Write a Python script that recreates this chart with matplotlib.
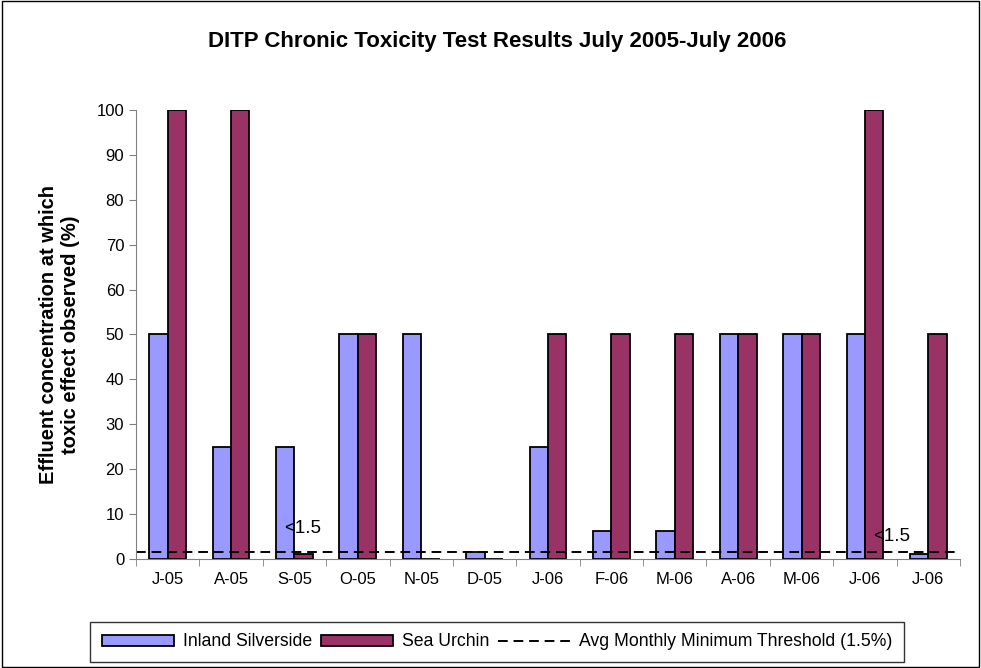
import matplotlib.pyplot as plt
import numpy as np
from matplotlib.patches import Rectangle

plt.rcParams['font.family'] = ['Liberation Sans', 'DejaVu Sans']

months = ['J-05', 'A-05', 'S-05', 'O-05', 'N-05', 'D-05', 'J-06',
          'F-06', 'M-06', 'A-06', 'M-06', 'J-06', 'J-06']
silverside = [50, 25, 25, 50, 50, 1.5, 25, 6.25, 6.25, 50, 50, 50, 1.2]
urchin = [100, 100, 1.2, 50, 0, 0, 50, 50, 50, 50, 50, 100, 50]
threshold = 1.5

fig = plt.figure(figsize=(9.81, 6.68), dpi=100)
ax = fig.add_axes([136/981, 1 - 559/668, 824/981, 449/668])

x = np.arange(len(months))
w = 0.29
ax.bar(x - w/2, silverside, w, color='#9999ff', edgecolor='black', linewidth=1.3, label='Inland Silverside')
ax.bar(x + w/2, urchin, w, color='#993366', edgecolor='black', linewidth=1.3, label='Sea Urchin')
ax.plot([-0.5, len(months) - 0.5], [threshold, threshold], 'k--', dashes=(5, 3), linewidth=1.4,
        label='Avg Monthly Minimum Threshold (1.5%)')

ax.text(2.13, 6.9, '<1.5', ha='center', va='center', fontsize=13.5)
ax.text(11.42, 4.9, '<1.5', ha='center', va='center', fontsize=13.5)

ax.set_xlim(-0.5, len(months) - 0.5)
ax.set_ylim(0, 100)
ax.set_yticks(np.arange(0, 101, 10))
ax.set_xticks(x)
ax.set_xticklabels(months, fontsize=12)
ax.set_xticks(np.arange(-0.5, len(months), 1), minor=True)
ax.tick_params(axis='x', which='major', length=0, pad=9)
ax.tick_params(axis='x', which='minor', length=5, direction='out', color='gray')
ax.tick_params(axis='y', labelsize=12, length=5, direction='out', color='gray')
for s in ['top', 'right']:
    ax.spines[s].set_visible(False)
ax.spines['left'].set_color('gray')
ax.spines['bottom'].set_color('gray')

ax.set_ylabel('Effluent concentration at which\ntoxic effect observed (%)', fontsize=14.5,
              fontweight='bold', labelpad=12)
fig.text(497/981, 1 - 42/668, 'DITP Chronic Toxicity Test Results July 2005-July 2006',
         ha='center', va='center', fontsize=16, fontweight='bold')

handles, labels = ax.get_legend_handles_labels()
order = [1, 2, 0]
fig.legend([handles[i] for i in order], [labels[i] for i in order],
           loc='center', bbox_to_anchor=(497/981, 1 - 642/668), ncol=3, fontsize=12.7,
           frameon=True, fancybox=False, edgecolor='black', handlelength=4.1,
           handleheight=0.6, columnspacing=0.5, handletextpad=0.5, borderpad=0.65)

fig.patches.append(Rectangle((0.002, 0.002), 0.996, 0.996, transform=fig.transFigure,
                             fill=False, edgecolor='black', linewidth=1))

fig.savefig('out.png', dpi=100)
